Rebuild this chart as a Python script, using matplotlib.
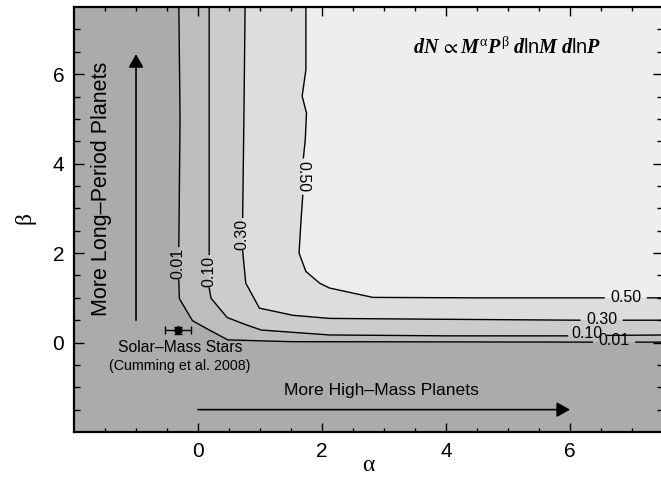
import numpy as np
import matplotlib
matplotlib.use('Agg')
import matplotlib.pyplot as plt

plt.rcParams['font.family'] = ['Liberation Sans', 'DejaVu Sans']
plt.rcParams['mathtext.fontset'] = 'custom'
plt.rcParams['mathtext.rm'] = 'Liberation Serif'
plt.rcParams['mathtext.it'] = 'Liberation Serif:italic:bold'
plt.rcParams['mathtext.sf'] = 'Liberation Sans'
plt.rcParams['mathtext.fallback'] = 'stix'

# contour levels and the gray fill of the region above each level
levels = ['0.01', '0.10', '0.30', '0.50']
fills = ['#bdbdbd', '#cccccc', '#dddddd', '#eeeeee']
below_color = '#ababab'

# contour paths (nan = gap for the inline label)
nan = np.nan
c01_a = [-0.31, -0.29, -0.31, nan, -0.31, -0.30, -0.09, 0.13, 0.48, 1.5, 6.36, nan, 7.06, 7.6]
c01_b = [7.6, 5.0, 2.15, nan, 1.40, 0.98, 0.49, 0.32, 0.06, 0.02, 0.01, nan, 0.01, 0.01]
c10_a = [0.18, 0.18, 0.18, nan, 0.18, 0.21, 0.47, 0.77, 1.02, 2.12, 4.0, 5.96, nan, 6.6, 7.6]
c10_b = [7.6, 5.0, 1.97, nan, 1.22, 0.99, 0.56, 0.40, 0.28, 0.17, 0.15, 0.15, nan, 0.16, 0.17]
c30_a = [0.76, 0.74, 0.72, nan, 0.72, 0.77, 0.99, 1.53, 2.12, 4.0, 6.16, nan, 6.86, 7.6]
c30_b = [7.6, 5.0, 2.80, nan, 2.05, 1.33, 0.77, 0.61, 0.54, 0.52, 0.50, nan, 0.50, 0.50]
c50_a = [1.74, 1.74, 1.68, 1.75, 1.73, 1.70, nan, 1.69, 1.66, 1.63, 1.74, 1.96, 2.12, 2.82, 4.5, 6.55, nan, 7.25, 7.6]
c50_b = [7.6, 6.1, 5.51, 5.13, 4.54, 4.13, nan, 3.29, 2.7, 2.0, 1.59, 1.33, 1.22, 1.01, 1.0, 1.0, nan, 1.0, 1.0]
paths = [(c01_a, c01_b), (c10_a, c10_b), (c30_a, c30_b), (c50_a, c50_b)]

# inline label positions: (alpha, beta, rotation)
vert_labels = [(-0.32, 1.77, 90), (0.18, 1.59, 90), (0.71, 2.42, 90), (1.69, 3.71, 270)]
horiz_labels = [(6.71, 0.04), (6.28, 0.21), (6.51, 0.51), (6.90, 1.01)]

# Cumming et al. 2008 point
sun_a, sun_b = -0.32, 0.27
sun_aerr, sun_berr = 0.21, 0.07

fig = plt.figure(figsize=(6.61, 4.79), dpi=100)
ax = fig.add_axes([0.112, 0.0981, 0.891, 0.887])
ax.set_facecolor(below_color)

for (pa, pb), fc in zip(paths, fills):
    pa = np.array(pa); pb = np.array(pb)
    ok = np.isfinite(pa)
    ax.fill(np.append(pa[ok], 7.6), np.append(pb[ok], 7.6), color=fc, lw=0, zorder=1)
for pa, pb in paths:
    ax.plot(pa, pb, color='black', lw=1.0, zorder=2)

for lab, (a, b, r) in zip(levels, vert_labels):
    ax.text(a, b, lab, rotation=r, ha='center', va='center', fontsize=11.5, zorder=3)
for lab, (a, b) in zip(levels, horiz_labels):
    ax.text(a, b, lab, ha='center', va='center', fontsize=11.5, zorder=3)

ax.errorbar(sun_a, sun_b, xerr=sun_aerr, yerr=sun_berr, fmt='o', ms=5,
            color='black', lw=1.0, capsize=3, capthick=1.0, zorder=4)
ax.text(-0.29, -0.12, 'Solar\u2013Mass Stars', ha='center', va='center', fontsize=11.3)
ax.text(-0.29, -0.52, '(Cumming et al. 2008)', ha='center', va='center', fontsize=10.3)

arrow = dict(arrowstyle='-|>,head_length=0.8,head_width=0.45', color='black',
             lw=1.2, shrinkA=0, shrinkB=0)
ax.annotate('', xy=(-1.0, 6.45), xytext=(-1.0, 0.5), arrowprops=arrow)
ax.annotate('', xy=(6.0, -1.5), xytext=(0.0, -1.5), arrowprops=arrow)
ax.text(-1.55, 3.44, 'More Long\u2013Period Planets', rotation=90,
        ha='center', va='center', fontsize=15.5)
ax.text(2.96, -1.07, 'More High\u2013Mass Planets', ha='center', va='center', fontsize=12.6)

ax.text(4.99, 6.6, r'$dN\,\propto M^{\mathrm{\alpha}}P^{\mathrm{\beta}}\;'
        r'd\mathsf{ln}M\;d\mathsf{ln}P$',
        ha='center', va='center', fontsize=14.5)

ax.set_xlim(-2, 7.5)
ax.set_ylim(-2, 7.5)
ax.set_xticks([0, 2, 4, 6])
ax.set_yticks([0, 2, 4, 6])
ax.set_xticks(np.arange(-1.5, 7.5, 0.5), minor=True)
ax.set_yticks(np.arange(-1.5, 7.5, 0.5), minor=True)
ax.tick_params(which='both', direction='in', top=True, right=True, width=1.0, labelsize=15)
ax.tick_params(axis='x', which='major', length=6.5, pad=7)
ax.tick_params(axis='x', which='minor', length=3)
ax.tick_params(axis='y', which='major', length=7.5, pad=7)
ax.tick_params(axis='y', which='minor', length=4)
for sp in ax.spines.values():
    sp.set_linewidth(1.6)
    sp.set_zorder(5)
ax.set_xlabel(r'$\mathrm{\alpha}$', fontsize=17, labelpad=-5)
ax.set_ylabel(r'$\mathrm{\beta}$', fontsize=17, labelpad=10)

fig.savefig('out.png', dpi=100)
